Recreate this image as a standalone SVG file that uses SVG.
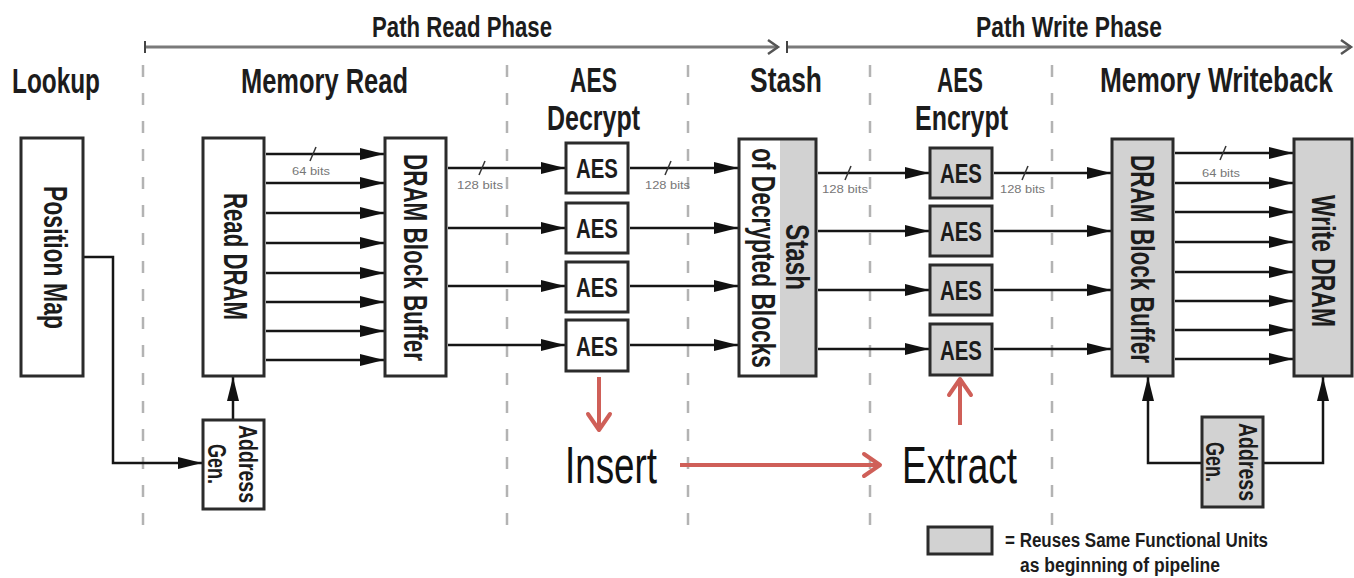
<svg xmlns="http://www.w3.org/2000/svg" width="1354" height="578" viewBox="0 0 1354 578">
<defs>
<style>
.box{fill:#fff;stroke:#2b2b2b;stroke-width:3}
.gbox{fill:#d2d2d2;stroke:#2b2b2b;stroke-width:3}
.hd{font-family:"Liberation Sans",Arial,sans-serif;font-weight:bold;font-size:35px;fill:#1c1c1c}
.ph{font-size:30px}
.bt{font-family:"Liberation Sans",Arial,sans-serif;font-weight:bold;font-size:33px;fill:#1c1c1c}
.sm{font-size:26px}
.aes{font-size:28px}
.lg{font-size:20px}
.bits{font-family:"Liberation Sans",Arial,sans-serif;font-size:11px;fill:#777}
.wire{stroke:#151515;stroke-width:2.5;fill:none}
.arr{marker-end:url(#ah)}
.slash{stroke:#333;stroke-width:1.5}
.dash{stroke:#b3b3b3;stroke-width:2.5;stroke-dasharray:12 16;fill:none}
.phase{stroke:#7a7a7a;stroke-width:3;fill:none}
.red{stroke:#cf5f58;stroke-width:4;fill:none;marker-end:url(#rh)}
.big{font-family:"Liberation Sans",Arial,sans-serif;font-size:52px;fill:#111}
</style>
<marker id="ah" markerUnits="userSpaceOnUse" markerWidth="24" markerHeight="12" refX="24" refY="6" orient="auto" overflow="visible"><path d="M0,0 L24,6 L0,12 z" fill="#111"/></marker>
<marker id="ph" markerUnits="userSpaceOnUse" markerWidth="14" markerHeight="16" refX="11" refY="8" orient="auto" overflow="visible"><path d="M1,1 L11,8 L1,15" fill="none" stroke="#555" stroke-width="2.5"/></marker>
<marker id="rh" markerUnits="userSpaceOnUse" markerWidth="22" markerHeight="26" refX="18" refY="12" orient="auto" overflow="visible"><path d="M2,1 L18,12 L2,23" fill="none" stroke="#cf5f58" stroke-width="4" stroke-linecap="round" stroke-linejoin="round"/></marker>
</defs>
<rect width="1354" height="578" fill="#fff"/>

<g id="stage-dividers">
<line class="dash" x1="143" y1="65" x2="143" y2="528"/>
<line class="dash" x1="507" y1="65" x2="507" y2="528"/>
<line class="dash" x1="688" y1="65" x2="688" y2="528"/>
<line class="dash" x1="870" y1="65" x2="870" y2="528"/>
<line class="dash" x1="1052" y1="65" x2="1052" y2="528"/>
</g>

<g id="phases">
<line class="phase" x1="145" y1="47" x2="778" y2="47" marker-end="url(#ph)"/>
<line stroke="#444" stroke-width="2" x1="145" y1="41" x2="145" y2="53"/>
<line class="phase" x1="787" y1="47" x2="1351" y2="47" marker-end="url(#ph)"/>
<line stroke="#444" stroke-width="2" x1="787" y1="41" x2="787" y2="53"/>
<text class="hd ph" x="372" y="37" textLength="180" lengthAdjust="spacingAndGlyphs">Path Read Phase</text>
<text class="hd ph" x="976" y="37" textLength="186" lengthAdjust="spacingAndGlyphs">Path Write Phase</text>
</g>

<g id="headers">
<text class="hd" x="12" y="93" textLength="88" lengthAdjust="spacingAndGlyphs">Lookup</text>
<text class="hd" x="241" y="93" textLength="167" lengthAdjust="spacingAndGlyphs">Memory Read</text>
<text class="hd" x="570" y="92" textLength="47" lengthAdjust="spacingAndGlyphs">AES</text>
<text class="hd" x="547" y="130" textLength="93" lengthAdjust="spacingAndGlyphs">Decrypt</text>
<text class="hd" x="750" y="92" textLength="72" lengthAdjust="spacingAndGlyphs">Stash</text>
<text class="hd" x="937" y="92" textLength="46" lengthAdjust="spacingAndGlyphs">AES</text>
<text class="hd" x="915" y="130" textLength="93" lengthAdjust="spacingAndGlyphs">Encrypt</text>
<text class="hd" transform="translate(1100,92) scale(0.749,1)" x="0" y="0" textLength="311" lengthAdjust="spacingAndGlyphs">Memory Writeback</text>
</g>

<g id="connectors">
<path class="wire arr" d="M83,257 H113 V463 H202"/>
<path class="wire arr" d="M233,420 V377"/>
<path class="wire arr" d="M266,154 H384"/>
<path class="wire arr" d="M266,183 H384"/>
<path class="wire arr" d="M266,213 H384"/>
<path class="wire arr" d="M266,243 H384"/>
<path class="wire arr" d="M266,273 H384"/>
<path class="wire arr" d="M266,302 H384"/>
<path class="wire arr" d="M266,331 H384"/>
<path class="wire arr" d="M266,360 H384"/>
<path class="wire arr" d="M448,168 H565"/>
<path class="wire arr" d="M448,228 H565"/>
<path class="wire arr" d="M448,286 H565"/>
<path class="wire arr" d="M448,345 H565"/>
<path class="wire arr" d="M630,168 H738"/>
<path class="wire arr" d="M630,228 H738"/>
<path class="wire arr" d="M630,286 H738"/>
<path class="wire arr" d="M630,345 H738"/>
<path class="wire arr" d="M818,173 H929"/>
<path class="wire arr" d="M818,231 H929"/>
<path class="wire arr" d="M818,290 H929"/>
<path class="wire arr" d="M818,349 H929"/>
<path class="wire arr" d="M994,173 H1111"/>
<path class="wire arr" d="M994,231 H1111"/>
<path class="wire arr" d="M994,290 H1111"/>
<path class="wire arr" d="M994,349 H1111"/>
<path class="wire arr" d="M1175,153 H1293"/>
<path class="wire arr" d="M1175,183 H1293"/>
<path class="wire arr" d="M1175,212 H1293"/>
<path class="wire arr" d="M1175,242 H1293"/>
<path class="wire arr" d="M1175,272 H1293"/>
<path class="wire arr" d="M1175,301 H1293"/>
<path class="wire arr" d="M1175,330 H1293"/>
<path class="wire arr" d="M1175,359 H1293"/>
<path class="wire arr" d="M1202,463 H1148 V377"/>
<path class="wire arr" d="M1263,463 H1323 V377"/>
<line class="slash" x1="310" y1="161" x2="316" y2="147"/>
<line class="slash" x1="479" y1="175" x2="485" y2="161"/>
<line class="slash" x1="665" y1="175" x2="671" y2="161"/>
<line class="slash" x1="845" y1="180" x2="851" y2="166"/>
<line class="slash" x1="1022" y1="180" x2="1028" y2="166"/>
<line class="slash" x1="1220" y1="160" x2="1226" y2="146"/>
<text class="bits" x="292" y="175" textLength="38" lengthAdjust="spacingAndGlyphs">64 bits</text>
<text class="bits" x="457" y="189" textLength="46" lengthAdjust="spacingAndGlyphs">128 bits</text>
<text class="bits" x="645" y="189" textLength="45" lengthAdjust="spacingAndGlyphs">128 bits</text>
<text class="bits" x="822" y="193" textLength="46" lengthAdjust="spacingAndGlyphs">128 bits</text>
<text class="bits" x="1000" y="193" textLength="45" lengthAdjust="spacingAndGlyphs">128 bits</text>
<text class="bits" x="1202" y="177" textLength="38" lengthAdjust="spacingAndGlyphs">64 bits</text>
<path class="red" d="M599,377 V430"/>
<path class="red" d="M680,465 H880"/>
<path class="red" d="M960,425 V379"/>
</g>

<g id="position-map">
<rect class="box" x="21" y="138" width="62" height="238"/>
<text class="bt" transform="translate(44,258) rotate(90)" x="-72" y="0" textLength="143" lengthAdjust="spacingAndGlyphs">Position Map</text>
</g>
<g id="read-dram">
<rect class="box" x="203" y="138" width="61" height="238"/>
<text class="bt" transform="translate(224,257) rotate(90)" x="-64" y="0" textLength="127" lengthAdjust="spacingAndGlyphs">Read DRAM</text>
</g>
<g id="address-gen-read">
<rect class="box" x="203" y="420" width="61" height="89"/>
<text class="bt sm" transform="translate(239,464) rotate(90)" x="-39" y="0" textLength="78" lengthAdjust="spacingAndGlyphs">Address</text>
<text class="bt sm" transform="translate(208,464) rotate(90)" x="-20" y="0" textLength="40" lengthAdjust="spacingAndGlyphs">Gen.</text>
</g>
<g id="dram-block-buffer-read">
<rect class="box" x="385" y="138" width="61" height="238"/>
<text class="bt" transform="translate(404,258) rotate(90)" x="-104" y="0" textLength="207" lengthAdjust="spacingAndGlyphs">DRAM Block Buffer</text>
</g>
<g id="aes-decrypt">
<rect class="box" x="566" y="143" width="62" height="50"/>
<rect class="box" x="566" y="203" width="62" height="50"/>
<rect class="box" x="566" y="262" width="62" height="50"/>
<rect class="box" x="566" y="320" width="62" height="51"/>
<text class="bt aes" x="576" y="178" textLength="42" lengthAdjust="spacingAndGlyphs">AES</text>
<text class="bt aes" x="576" y="238" textLength="42" lengthAdjust="spacingAndGlyphs">AES</text>
<text class="bt aes" x="576" y="297" textLength="42" lengthAdjust="spacingAndGlyphs">AES</text>
<text class="bt aes" x="576" y="356" textLength="42" lengthAdjust="spacingAndGlyphs">AES</text>
</g>
<g id="stash">
<rect x="780" y="139" width="36" height="237" fill="#d2d2d2"/>
<rect x="739" y="139" width="77" height="237" fill="none" stroke="#2b2b2b" stroke-width="3"/>
<text class="bt" transform="translate(786,257) rotate(90)" x="-33" y="0" textLength="66" lengthAdjust="spacingAndGlyphs">Stash</text>
<text class="bt" transform="translate(752,258) rotate(90)" x="-110" y="0" textLength="220" lengthAdjust="spacingAndGlyphs">of Decrypted Blocks</text>
</g>
<g id="aes-encrypt">
<rect class="gbox" x="930" y="148" width="62" height="50"/>
<rect class="gbox" x="930" y="206" width="62" height="50"/>
<rect class="gbox" x="930" y="265" width="62" height="50"/>
<rect class="gbox" x="930" y="324" width="62" height="51"/>
<text class="bt aes" x="940" y="183" textLength="42" lengthAdjust="spacingAndGlyphs">AES</text>
<text class="bt aes" x="940" y="241" textLength="42" lengthAdjust="spacingAndGlyphs">AES</text>
<text class="bt aes" x="940" y="300" textLength="42" lengthAdjust="spacingAndGlyphs">AES</text>
<text class="bt aes" x="940" y="360" textLength="42" lengthAdjust="spacingAndGlyphs">AES</text>
</g>
<g id="dram-block-buffer-write">
<rect class="gbox" x="1112" y="139" width="61" height="237"/>
<text class="bt" transform="translate(1131,259) rotate(90)" x="-104" y="0" textLength="208" lengthAdjust="spacingAndGlyphs">DRAM Block Buffer</text>
</g>
<g id="write-dram">
<rect class="gbox" x="1294" y="139" width="58" height="237"/>
<text class="bt" transform="translate(1312,261) rotate(90)" x="-66" y="0" textLength="132" lengthAdjust="spacingAndGlyphs">Write DRAM</text>
</g>
<g id="address-gen-write">
<rect class="gbox" x="1202" y="417" width="61" height="90"/>
<text class="bt sm" transform="translate(1239,462) rotate(90)" x="-39" y="0" textLength="78" lengthAdjust="spacingAndGlyphs">Address</text>
<text class="bt sm" transform="translate(1206,462) rotate(90)" x="-20" y="0" textLength="40" lengthAdjust="spacingAndGlyphs">Gen.</text>
</g>
<g id="insert">
<text class="big" x="565" y="483" textLength="92" lengthAdjust="spacingAndGlyphs">Insert</text>
</g>
<g id="extract">
<text class="big" x="902" y="483" textLength="115" lengthAdjust="spacingAndGlyphs">Extract</text>
</g>
<g id="legend">
<rect class="gbox" x="928" y="527" width="64" height="27"/>
<text class="bt lg" x="1005" y="547" textLength="263" lengthAdjust="spacingAndGlyphs">= Reuses Same Functional Units</text>
<text class="bt lg" x="1020" y="572" textLength="200" lengthAdjust="spacingAndGlyphs">as beginning of pipeline</text>
</g>
</svg>
